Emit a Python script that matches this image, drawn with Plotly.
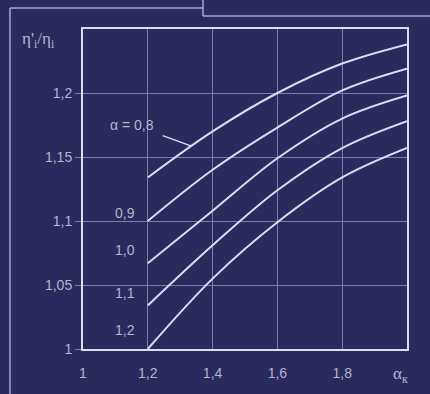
import plotly.graph_objects as go

# ---- data ----
x_vals = [1.2, 1.4, 1.6, 1.8, 2.0]
alpha_labels = ["0,8", "0,9", "1,0", "1,1", "1,2"]
curve_08 = [1.134, 1.170, 1.200, 1.223, 1.238]
curve_09 = [1.100, 1.140, 1.173, 1.202, 1.219]
curve_10 = [1.067, 1.108, 1.149, 1.180, 1.198]
curve_11 = [1.034, 1.081, 1.124, 1.157, 1.178]
curve_12 = [1.000, 1.055, 1.099, 1.134, 1.157]
curves = [curve_08, curve_09, curve_10, curve_11, curve_12]

x_ticks = [1, 1.2, 1.4, 1.6, 1.8]
x_ticktext = ["1", "1,2", "1,4", "1,6", "1,8"]
y_ticks = [1, 1.05, 1.1, 1.15, 1.2]
y_ticktext = ["1", "1,05", "1,1", "1,15", "1,2"]

# curve-label positions (data coords)
label_x = [1.151, 1.13, 1.13, 1.13, 1.13]
label_y = [1.175, 1.106, 1.077, 1.044, 1.015]

BG = "#2a2a5e"
LINE = "#dcdcf4"
GRID = "#7c7bb0"
TXT = "#b4b4d0"

W, H = 430, 394
ML, MR, MT, MB = 83, 23, 29, 45

fig = go.Figure()
for ys in curves:
    fig.add_trace(go.Scatter(x=x_vals, y=ys, mode="lines", line_shape="spline",
                             line=dict(color=LINE, width=2), showlegend=False,
                             hoverinfo="skip"))

for i, lab in enumerate(alpha_labels):
    t = ("α = " + lab) if i == 0 else lab
    fig.add_annotation(x=label_x[i], y=label_y[i], text=t, showarrow=False,
                       font=dict(family="Liberation Sans, Arial", size=14, color=TXT),
                       xanchor="center", yanchor="middle")

# leader line for alpha = 0,8
fig.add_shape(type="line", x0=1.246, y0=1.1667, x1=1.335, y1=1.1585,
              line=dict(color=LINE, width=1.5), xref="x", yref="y")

pw = W - ML - MR
ph = H - MT - MB

def px(xp):
    return (xp - ML) / pw

def py(yp):
    return 1 - (yp - MT) / ph

# outer decorative frame
frame = dict(color="#a9a8d4", width=1.5)
fig.add_shape(type="line", xref="paper", yref="paper", x0=px(10), y0=py(8), x1=px(10), y1=py(400), line=frame)
fig.add_shape(type="line", xref="paper", yref="paper", x0=px(10), y0=py(8), x1=px(203), y1=py(8), line=frame)
fig.add_shape(type="line", xref="paper", yref="paper", x0=px(203), y0=py(-5), x1=px(203), y1=py(16), line=frame)
fig.add_shape(type="line", xref="paper", yref="paper", x0=px(203), y0=py(16), x1=px(440), y1=py(16), line=frame)

# axis titles
fig.add_annotation(xref="paper", yref="paper", x=px(20), y=py(40), xanchor="left", yanchor="middle",
                   text="η'<sub>i</sub>/η<sub>i</sub>", showarrow=False,
                   font=dict(family="Liberation Serif, Times New Roman", size=17, color=TXT))
fig.add_annotation(xref="paper", yref="paper", x=px(400), y=py(375), xanchor="center", yanchor="middle",
                   text="α<sub>к</sub>", showarrow=False,
                   font=dict(family="Liberation Serif, Times New Roman", size=17, color=TXT))

fig.update_layout(
    width=W, height=H,
    margin=dict(l=ML, r=MR, t=MT, b=MB),
    paper_bgcolor=BG, plot_bgcolor=BG,
    xaxis=dict(range=[1, 2], tickvals=x_ticks, ticktext=x_ticktext,
               showgrid=True, gridcolor=GRID, gridwidth=1, zeroline=False,
               showline=True, linecolor=LINE, linewidth=2, mirror=True,
               ticks="outside", ticklen=10, tickcolor="rgba(0,0,0,0)",
               tickfont=dict(family="Liberation Sans, Arial", size=14, color=TXT)),
    yaxis=dict(range=[1, 1.25], tickvals=y_ticks, ticktext=y_ticktext,
               showgrid=True, gridcolor=GRID, gridwidth=1, zeroline=False,
               showline=True, linecolor=LINE, linewidth=2, mirror=True,
               ticks="outside", ticklen=6, tickcolor=GRID,
               tickfont=dict(family="Liberation Sans, Arial", size=14, color=TXT)),
)

fig.write_html("out.html", config={"displayModeBar": False},
               post_script="document.body.style.margin='0';document.body.style.background='" + BG + "';")
